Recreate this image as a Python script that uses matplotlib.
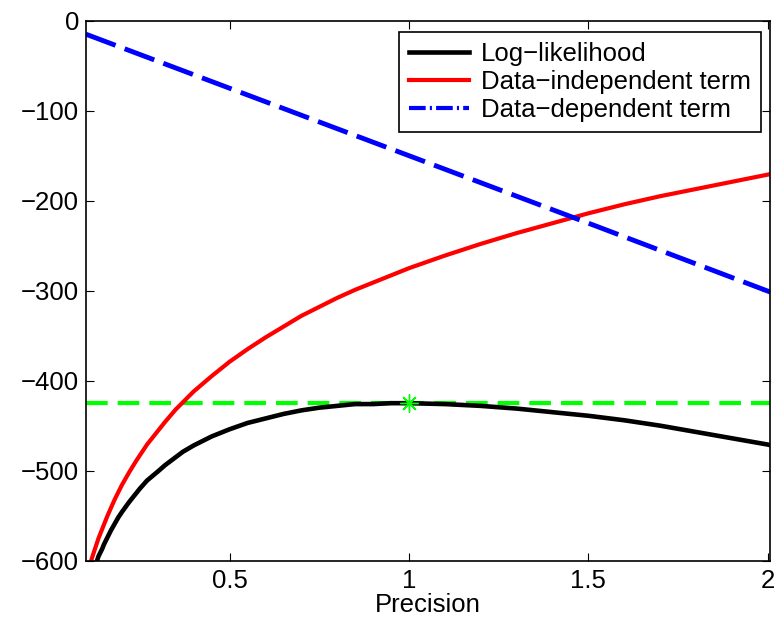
import matplotlib
matplotlib.use('Agg')
import matplotlib.pyplot as plt
from matplotlib.lines import Line2D

plt.rcParams['font.family'] = ['Liberation Sans', 'DejaVu Sans']

# values
red_x = [0.112, 0.12, 0.125, 0.13, 0.135, 0.14, 0.145, 0.15, 0.16, 0.17, 0.18, 0.19, 0.2, 0.22,
         0.24, 0.25, 0.27, 0.3, 0.32, 0.35, 0.37, 0.4, 0.45, 0.5, 0.55, 0.6, 0.65, 0.7, 0.75,
         0.8, 0.85, 0.9, 0.95, 1.0, 1.1, 1.2, 1.3, 1.4, 1.5, 1.6, 1.7, 1.8, 1.9, 2.0, 2.01]
red_y = [-603, -593, -587, -581, -575, -570, -565, -560, -550, -541, -532, -524, -516, -502,
         -489, -483, -471, -456, -446, -432, -424, -412, -395, -379, -365, -352, -340, -328, -318,
         -308, -299, -291, -283, -275, -261, -248, -236, -225, -214, -204, -195, -187, -179, -171, -170]

black_x = [0.13, 0.135, 0.14, 0.145, 0.15, 0.16, 0.17, 0.18, 0.19, 0.2, 0.22, 0.24, 0.25, 0.27,
           0.3, 0.32, 0.35, 0.37, 0.4, 0.45, 0.5, 0.55, 0.6, 0.65, 0.7, 0.75, 0.8, 0.85,
           0.9, 0.95, 1.0, 1.1, 1.2, 1.3, 1.4, 1.5, 1.6, 1.7, 1.8, 1.9, 2.0, 2.01]
black_y = [-601, -595, -591, -587, -582, -574, -566, -559, -552, -546, -535, -525, -520, -511,
           -501, -494, -485, -479, -472, -462, -454, -447, -442, -437, -433, -430, -428, -426,
           -426, -425, -425, -426, -428, -431, -435, -439, -444, -450, -457, -464, -471, -472]

blue_x = [0.1, 0.5, 1.0, 1.5, 2.01]
blue_y = [-15, -75, -150, -225, -302]

max_x = 1.0
max_y = -425

labels = ['Log\u2212likelihood', 'Data\u2212independent term', 'Data\u2212dependent term']

fig = plt.figure(figsize=(7.76, 6.22), dpi=100)
ax = fig.add_axes([0.1108, 0.0986, 0.8815, 0.8681])

ax.axhline(max_y, color='#00FF00', lw=3, dashes=(5.2, 2.4))
ax.plot(red_x, red_y, color='#FF0000', lw=3)
ax.plot(blue_x, blue_y, color='#0000FF', lw=3.5, dashes=(6.5, 2))
ax.plot(black_x, black_y, color='black', lw=3.3)
ax.plot([max_x], [max_y], color='#00FF00', marker=(8, 2, 0), markersize=13, mew=1, ls='none')

ax.set_xlim(0.1, 2.006)
ax.set_ylim(-600, 0)
ax.set_xticks([0.5, 1, 1.5, 2])
ax.set_xticklabels(['0.5', '1', '1.5', '2'])
ax.set_yticks([0, -100, -200, -300, -400, -500, -600])
ax.tick_params(direction='in', length=6, width=0.8, labelsize=18.5, top=True, right=True)
ax.tick_params(axis='x', pad=6)
ax.tick_params(axis='y', pad=5)
for s in ax.spines.values():
    s.set_linewidth(1.2)
ax.set_xlabel('Precision', fontsize=18.5, labelpad=0)

handles = [Line2D([], [], color='black', lw=3.3),
           Line2D([], [], color='#FF0000', lw=3),
           Line2D([], [], color='#0000FF', lw=3, dashes=(4, 1, 0.5, 1))]
leg = ax.legend(handles, labels, loc='upper right', bbox_to_anchor=(0.9807, 0.9486),
                bbox_transform=fig.transFigure, fontsize=18.5, fancybox=False, framealpha=1,
                edgecolor='black', handlelength=2.35, labelspacing=0.15, borderpad=0.4,
                handletextpad=0.45, borderaxespad=0)
leg.get_frame().set_linewidth(1.2)

fig.savefig('out.png', dpi=100)
